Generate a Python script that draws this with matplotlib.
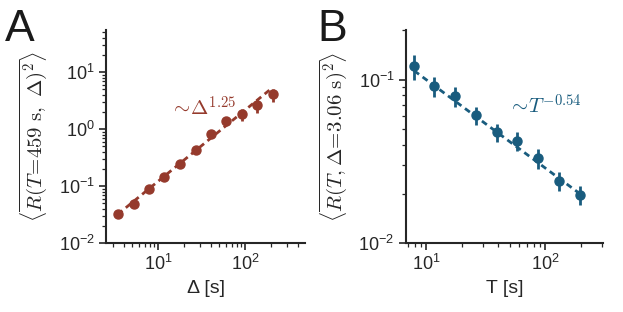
import numpy as np
import matplotlib
matplotlib.use("Agg")
import matplotlib.pyplot as plt

plt.rcParams['font.family'] = ['Liberation Sans', 'DejaVu Sans']
plt.rcParams['mathtext.fontset'] = 'cm'

# Panel A data
delta = [3.41, 5.25, 7.81, 11.7, 17.9, 27.1, 40.3, 60.5, 90.7, 136, 206]
r_delta = [0.0323, 0.0483, 0.0875, 0.142, 0.246, 0.423, 0.807, 1.40, 1.81, 2.64, 4.06]
err_delta = [0.003, 0.004, 0.008, 0.014, 0.025, 0.05, 0.10, 0.22, 0.45, 0.75, 1.1]
slope_a = 1.25
coef_a = 0.00686

# Panel B data
T = [7.87, 11.6, 17.3, 25.9, 39.2, 58.2, 86.7, 129, 194]
r_T = [0.121, 0.091, 0.0789, 0.0605, 0.0475, 0.042, 0.0329, 0.0240, 0.0197]
err_T = [0.021, 0.013, 0.011, 0.0075, 0.006, 0.0055, 0.0045, 0.0033, 0.0027]
slope_b = -0.54
coef_b = 0.345

red = '#953a2c'
blue = '#195c7e'
spine_col = '#262626'

fig = plt.figure(figsize=(6.23, 3.12), dpi=100)
axA = fig.add_axes([0.170, 0.221, 0.320, 0.683])
axB = fig.add_axes([0.651, 0.221, 0.317, 0.683])

def style(ax):
    for s in ['top', 'right']:
        ax.spines[s].set_visible(False)
    for s in ['left', 'bottom']:
        ax.spines[s].set_linewidth(1.5)
        ax.spines[s].set_color(spine_col)
    ax.set_xscale('log')
    ax.set_yscale('log')
    ax.tick_params(which='major', direction='out', length=5, width=1.2, labelsize=13, colors=spine_col, pad=3)
    ax.tick_params(which='minor', direction='out', length=3, width=0.9, colors=spine_col)

style(axA)
xf = np.array([delta[0], delta[-1]])
axA.plot(xf, coef_a * xf ** slope_a, ls=(0, (2.2, 1.6)), lw=2, color=red, zorder=2)
axA.errorbar(delta, r_delta, yerr=err_delta, fmt='o', color=red, ms=6.5, elinewidth=2, capsize=0, zorder=3)
axA.set_xlim(2.5, 490)
axA.set_ylim(0.01, 55)
axA.set_xlabel(r'Δ [s]', fontsize=14, color=spine_col, labelpad=4)
axA.set_ylabel(r'$\left\langle\overline{R(T\!=\!459\ \mathrm{s},\ \Delta)^2}\right\rangle$', fontsize=15, color=spine_col, labelpad=6)
axA.text(0.32, 0.595, r'$\sim\!\Delta^{1.25}$', transform=axA.transAxes, color=red, fontsize=15)

style(axB)
xfb = np.array([T[0], T[-1]])
axB.plot(xfb, coef_b * xfb ** slope_b, ls=(0, (2.2, 1.6)), lw=2, color=blue, zorder=2)
axB.errorbar(T, r_T, yerr=err_T, fmt='o', color=blue, ms=6.5, elinewidth=2, capsize=0, zorder=3)
axB.set_xlim(6.67, 305)
axB.set_ylim(0.01, 0.201)
axB.set_xlabel('T [s]', fontsize=14, color=spine_col, labelpad=4)
axB.set_ylabel(r'$\left\langle\overline{R(T,\Delta\!=\!3.06\ \mathrm{s})^2}\right\rangle$', fontsize=15, color=spine_col, labelpad=6)
axB.text(0.52, 0.605, r'$\sim\!T^{-0.54}$', transform=axB.transAxes, color=blue, fontsize=15)

fig.text(0.008, 0.868, 'A', fontsize=32, color='#1a1a1a')
fig.text(0.510, 0.868, 'B', fontsize=32, color='#1a1a1a')

fig.savefig('out.png', dpi=100)
